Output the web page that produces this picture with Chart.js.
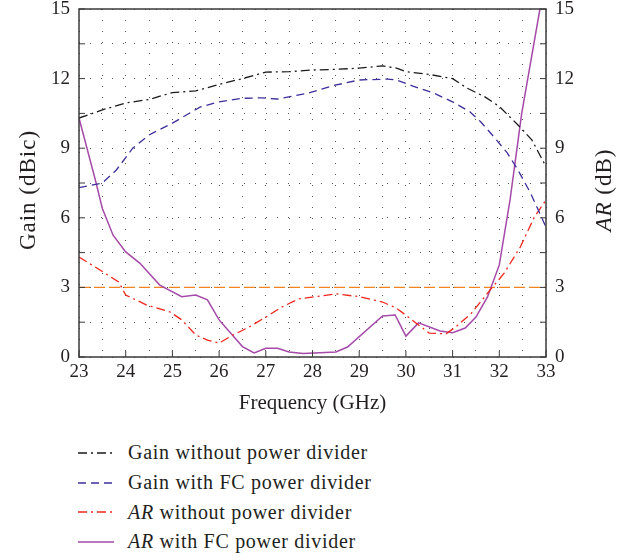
<!DOCTYPE html>
<html>
<head>
<meta charset="utf-8">
<script src="https://cdn.jsdelivr.net/npm/chart.js@4/dist/chart.umd.min.js"></script>
<style>
  body { margin: 0; background: #fff; }
  #wrap { position: relative; width: 621px; height: 560px; }
  #chart-box { position: absolute; left: 0; top: 0; width: 621px; height: 420px; }
  #legend { position: absolute; left: 78px; top: 438px; font-family: 'Liberation Serif', serif; font-size: 20px; letter-spacing: 0.7px; color: #231f20; }
  #legend .row { display: flex; align-items: center; height: 29.7px; }
  #legend svg { width: 36px; height: 10px; margin-right: 14px; }
</style>
</head>
<body>
<div id="wrap">
  <div id="chart-box"><canvas id="gain-ar"></canvas></div>
  <div id="legend"></div>
</div>
<script>
const gainNoDivFreq = [23, 23.5, 24, 24.5, 25, 25.5, 26, 26.5, 27, 27.5, 28, 28.5, 29, 29.5, 29.8, 30, 30.5, 31, 31.3, 31.7, 32, 32.4, 32.7, 33];
const gainNoDiv = [10.3, 10.65, 10.95, 11.1, 11.4, 11.47, 11.75, 12.0, 12.28, 12.3, 12.37, 12.4, 12.45, 12.55, 12.45, 12.3, 12.18, 12.0, 11.6, 11.2, 10.8, 10.0, 9.35, 8.2];

const gainFcFreq = [23, 23.5, 23.8, 24.15, 24.5, 25, 25.6, 26, 26.5, 26.9, 27.25, 27.9, 28.45, 29, 29.6, 29.8, 30.15, 30.6, 31, 31.37, 31.6, 31.88, 32.17, 32.4, 32.67, 33];
const gainFc = [7.3, 7.5, 8.06, 9.0, 9.57, 10.08, 10.78, 11.0, 11.15, 11.17, 11.12, 11.37, 11.7, 11.94, 11.98, 11.94, 11.68, 11.37, 11.0, 10.57, 10.14, 9.5, 8.8, 8.06, 7.06, 5.6];

const arNoDivFreq = [23, 23.45, 23.85, 24, 24.45, 24.95, 25.2, 25.5, 25.75, 26, 26.3, 26.65, 27, 27.35, 27.7, 28.5, 29, 29.5, 29.8, 30, 30.5, 30.86, 31.07, 31.4, 31.8, 32.1, 32.45, 32.75, 33];
const arNoDiv = [4.31, 3.75, 3.23, 2.67, 2.24, 1.94, 1.6, 0.95, 0.73, 0.6, 0.95, 1.3, 1.72, 2.16, 2.5, 2.72, 2.6, 2.37, 2.1, 1.8, 1.03, 1.0, 1.3, 1.88, 2.88, 3.6, 4.74, 6.03, 6.77];

const arFcFreq = [23, 23.35, 23.5, 23.73, 24, 24.3, 24.73, 25.2, 25.5, 25.75, 26, 26.5, 26.75, 27, 27.25, 27.5, 27.8, 28.5, 28.75, 29.5, 29.77, 30, 30.27, 30.73, 31, 31.27, 31.5, 31.75, 32, 32.23, 32.48, 32.87, 33];
const arFc = [10.3, 7.63, 6.4, 5.25, 4.53, 4.05, 3.1, 2.6, 2.67, 2.46, 1.6, 0.45, 0.18, 0.38, 0.38, 0.22, 0.15, 0.22, 0.43, 1.77, 1.81, 0.9, 1.47, 1.12, 1.05, 1.25, 1.72, 2.6, 3.97, 6.77, 10.5, 15, 16.5];

// 3 dB axial ratio limit
const arLimitFreq = [23, 33];
const arLimit = [3, 3];

const legendLabels = ['Gain without power divider', 'Gain with FC power divider', 'AR without power divider', 'AR with FC power divider'];

const serif = "'Liberation Serif', serif";
const ink = '#231f20';

function pts(xs, ys) {
  return xs.map((x, i) => ({ x: x, y: ys[i] }));
}

const datasets = [
  { label: legendLabels[0], data: pts(gainNoDivFreq, gainNoDiv), yAxisID: 'y', borderColor: '#1a1a1a', borderDash: [9, 4, 2, 4], borderWidth: 1.3 },
  { label: legendLabels[1], data: pts(gainFcFreq, gainFc), yAxisID: 'y', borderColor: '#3b2f9a', borderDash: [8, 5], borderWidth: 1.3 },
  { label: legendLabels[2], data: pts(arNoDivFreq, arNoDiv), yAxisID: 'y2', borderColor: '#f0261c', borderDash: [9, 4, 2, 4], borderWidth: 1.3 },
  { label: legendLabels[3], data: pts(arFcFreq, arFc), yAxisID: 'y2', borderColor: '#a54aa8', borderWidth: 1.5 },
  { label: 'limit', data: pts(arLimitFreq, arLimit), yAxisID: 'y2', borderColor: '#f28420', borderDash: [11, 4], borderWidth: 1.4 }
];
datasets.forEach(d => { d.pointRadius = 0; d.fill = false; d.tension = 0; });

// frame around the plot plus short inward tick marks
const frameTicks = {
  id: 'frameTicks',
  afterDatasetsDraw(chart) {
    const { ctx, chartArea: a, scales } = chart;
    ctx.save();
    ctx.strokeStyle = '#3a3a3a';
    ctx.lineWidth = 1.5;
    ctx.setLineDash([]);
    ctx.strokeRect(a.left, a.top, a.right - a.left, a.bottom - a.top);
    ctx.lineWidth = 1;
    ctx.beginPath();
    scales.x.ticks.forEach(t => {
      if (!Number.isInteger(t.value)) return;
      const px = scales.x.getPixelForValue(t.value);
      ctx.moveTo(px, a.bottom);
      ctx.lineTo(px, a.bottom - 6);
    });
    scales.y.ticks.forEach(t => {
      const py = scales.y.getPixelForValue(t.value);
      ctx.moveTo(a.left, py);
      ctx.lineTo(a.left + 6, py);
      ctx.moveTo(a.right, py);
      ctx.lineTo(a.right - 6, py);
    });
    ctx.stroke();
    ctx.restore();
  }
};

// axis titles, both vertical ones read bottom to top, "AR" in italics
const axisTitles = {
  id: 'axisTitles',
  afterDraw(chart) {
    const { ctx, chartArea: a } = chart;
    const midY = (a.top + a.bottom) / 2 + 7;
    ctx.save();
    ctx.fillStyle = ink;
    ctx.textBaseline = 'middle';
    ctx.font = `21px ${serif}`;
    ctx.textAlign = 'center';
    ctx.fillText('Frequency (GHz)', (a.left + a.right) / 2, a.bottom + 46);

    ctx.letterSpacing = '1px';
    ctx.font = `23px ${serif}`;
    ctx.save();
    ctx.translate(29, midY);
    ctx.rotate(-Math.PI / 2);
    ctx.fillText('Gain (dBic)', 0, 0);
    ctx.restore();

    ctx.save();
    ctx.translate(a.right + 59, midY);
    ctx.rotate(-Math.PI / 2);
    ctx.font = `italic 23px ${serif}`;
    const arW = ctx.measureText('AR').width;
    ctx.font = `23px ${serif}`;
    const restW = ctx.measureText(' (dB)').width;
    const x = -(arW + restW) / 2;
    ctx.textAlign = 'left';
    ctx.font = `italic 23px ${serif}`;
    ctx.fillText('AR', x, 0);
    ctx.font = `23px ${serif}`;
    ctx.fillText(' (dB)', x + arW, 0);
    ctx.restore();
    ctx.restore();
  }
};

const tickFont = { family: serif, size: 19, lineHeight: 1 };

// fixed side widths and a small top gap so the plot box sits where it should
function fitSide(width) {
  return s => { s.width = width; s.paddingTop = 9; s.paddingBottom = 0; };
}

new Chart(document.getElementById('gain-ar'), {
  type: 'line',
  data: { datasets: datasets },
  plugins: [frameTicks, axisTitles],
  options: {
    responsive: true,
    maintainAspectRatio: false,
    animation: false,
    layout: { padding: 0 },
    plugins: { legend: { display: false }, tooltip: { enabled: false } },
    scales: {
      x: {
        type: 'linear', min: 23, max: 33,
        afterFit: s => { s.height = 63; s.paddingLeft = 0; s.paddingRight = 0; },
        ticks: { stepSize: 0.5, autoSkip: false, maxRotation: 0, color: ink, font: tickFont, padding: 6,
          callback: v => Number.isInteger(v) ? v : '' },
        grid: { color: '#555', lineWidth: 1, drawTicks: false },
        border: { display: false, dash: [1, 10] }
      },
      y: {
        position: 'left', min: 0, max: 15,
        afterFit: fitSide(79),
        ticks: { stepSize: 1.5, autoSkip: false, color: ink, font: tickFont, padding: 9,
          callback: v => v % 3 === 0 ? v : '' },
        grid: { color: '#555', lineWidth: 1, drawTicks: false },
        border: { display: false, dash: [1, 10] }
      },
      y2: {
        position: 'right', min: 0, max: 15,
        afterFit: fitSide(75),
        ticks: { stepSize: 1.5, autoSkip: false, color: ink, font: tickFont, padding: 9,
          callback: v => v % 3 === 0 ? v : '' },
        grid: { drawOnChartArea: false, drawTicks: false },
        border: { display: false }
      }
    }
  }
});

// legend under the chart, built from the datasets
const legend = document.getElementById('legend');
datasets.slice(0, 4).forEach(d => {
  const row = document.createElement('div');
  row.className = 'row';
  const dash = d.borderDash ? d.borderDash.join(' ') : 'none';
  row.innerHTML = `<svg viewBox="0 0 36 10"><line x1="0" y1="5" x2="36" y2="5" stroke="${d.borderColor}" stroke-width="1.6" stroke-dasharray="${dash}"/></svg>`;
  const text = document.createElement('span');
  text.innerHTML = d.label.replace(/^AR/, '<i>AR</i>');
  row.appendChild(text);
  legend.appendChild(row);
});
</script>
</body>
</html>
